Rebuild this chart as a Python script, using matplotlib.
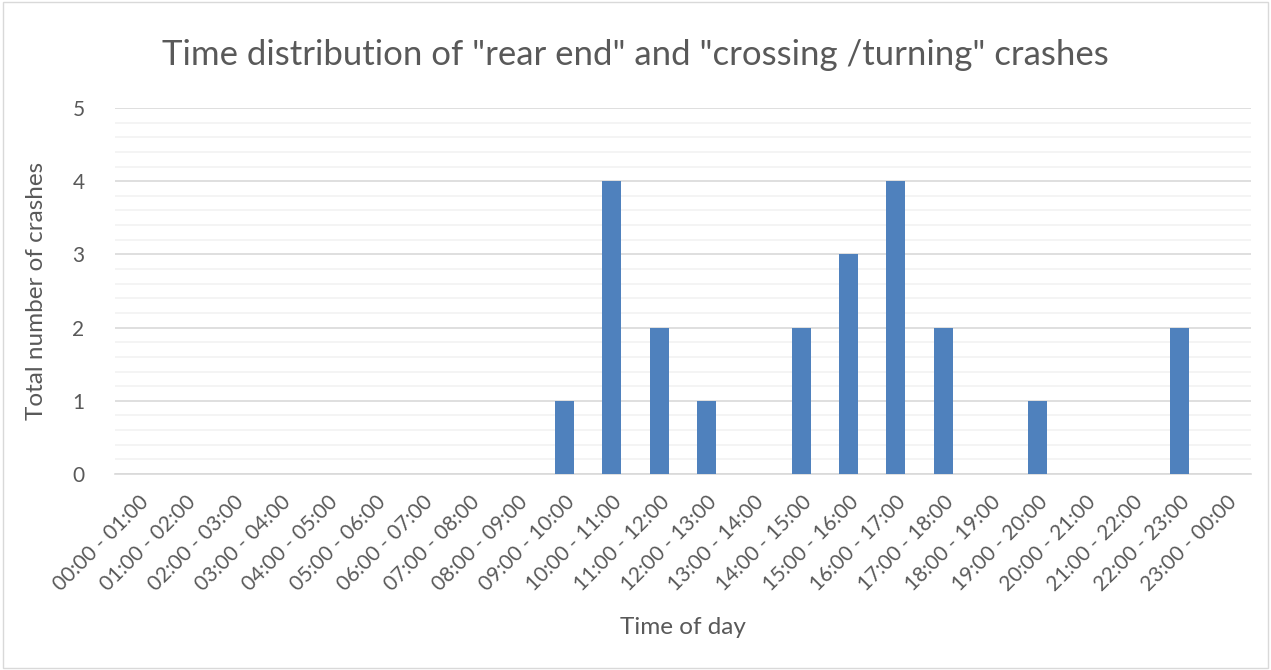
import numpy as np
import matplotlib
matplotlib.use("Agg")
import matplotlib.pyplot as plt
from matplotlib.patches import Rectangle

# Données
time_slots = ["%02d:00 - %02d:00" % (h, (h + 1) % 24) for h in range(24)]
crashes = [0, 0, 0, 0, 0, 0, 0, 0, 0, 1, 4, 2, 1, 0, 2, 3, 4, 2, 0, 1, 0, 0, 2, 0]
y_ticks = [0, 1, 2, 3, 4, 5]

plt.rcParams['font.family'] = ['Lato', 'DejaVu Sans']
text_color = '#595959'

fig = plt.figure(figsize=(12.71, 6.70), dpi=100)
ax = fig.add_axes([0.0905, 0.2925, 0.8935, 0.5463])

x = np.arange(len(time_slots))
ax.bar(x, crashes, width=0.4, color='#4F81BD', zorder=3)

ax.set_xlim(-0.5, len(time_slots) - 0.5)
ax.set_ylim(0, 5)
ax.set_yticks(y_ticks)
ax.set_yticks(np.arange(0, 5.01, 0.2), minor=True)
ax.grid(axis='y', which='major', color='#D9D9D9', linewidth=1.2, zorder=0)
ax.grid(axis='y', which='minor', color='#F2F2F2', linewidth=1.2, zorder=0)
ax.tick_params(axis='y', which='both', length=0, labelsize=15, labelcolor=text_color, pad=22)

ax.set_xticks(x)
ax.set_xticklabels(time_slots, rotation=45, ha='right', va='top',
                   rotation_mode='anchor', fontsize=15, color=text_color)
ax.tick_params(axis='x', length=0, pad=13)

for s in ['top', 'right', 'left']:
    ax.spines[s].set_visible(False)
ax.spines['bottom'].set_color('#D9D9D9')
ax.spines['bottom'].set_linewidth(1.2)

ax.set_xlabel("Time of day", fontsize=17.5, color=text_color, labelpad=16)
ax.set_ylabel("Total number of crashes", fontsize=17.5, color=text_color, labelpad=18)
fig.suptitle('Time distribution of "rear end" and "crossing /turning" crashes',
             fontsize=25, color=text_color, y=0.942)

# cadre autour du graphique
fig.patches.append(Rectangle((0.002, 0.003), 0.996, 0.994, transform=fig.transFigure,
                             fill=False, edgecolor='#D9D9D9', linewidth=1))

fig.savefig("out.png", dpi=100)
